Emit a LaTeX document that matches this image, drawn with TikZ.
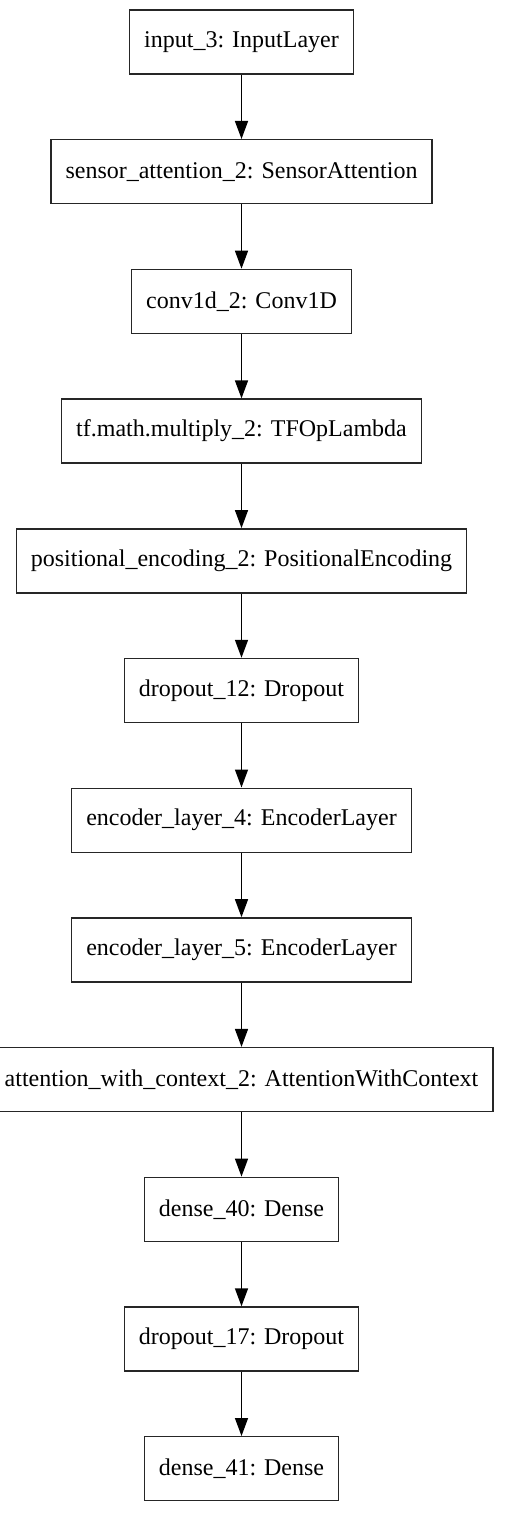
\documentclass[tikz,border=0pt]{standalone}
\usepackage{fontspec}
\setmainfont{Liberation Serif}
\usetikzlibrary{arrows.meta,positioning}

\begin{document}
\begin{tikzpicture}[
  layer/.style={draw=black!85,line width=0.7pt,fill=white,
    minimum height=32pt,inner xsep=7.3pt,inner ysep=2pt,font=\fontsize{12}{14}\selectfont},
  flow/.style={-{Triangle[length=9pt,width=6.5pt]},line width=0.7pt,draw=black}
]
\useasboundingbox (0,0) rectangle (257pt,-757pt);
\node[layer] (inp) at (120.75pt,-21pt) {input\_3: InputLayer};
\node[layer,below=32.15pt of inp] (sa) {sensor\_attention\_2: SensorAttention};
\node[layer,below=32.15pt of sa] (conv) {conv1d\_2: Conv1D};
\node[layer,below=32.15pt of conv] (mul) {tf.math.multiply\_2: TFOpLambda};
\node[layer,below=32.15pt of mul] (pe) {positional\_encoding\_2: PositionalEncoding};
\node[layer,below=32.15pt of pe] (drop1) {dropout\_12: Dropout};
\node[layer,below=32.15pt of drop1] (enc4) {encoder\_layer\_4: EncoderLayer};
\node[layer,below=32.15pt of enc4] (enc5) {encoder\_layer\_5: EncoderLayer};
\node[layer,below=32.15pt of enc5] (awc) {attention\_with\_context\_2: AttentionWithContext};
\node[layer,below=32.15pt of awc] (d40) {dense\_40: Dense};
\node[layer,below=32.15pt of d40] (drop2) {dropout\_17: Dropout};
\node[layer,below=32.15pt of drop2] (d41) {dense\_41: Dense};
\draw[flow] (inp)--(sa);
\draw[flow] (sa)--(conv);
\draw[flow] (conv)--(mul);
\draw[flow] (mul)--(pe);
\draw[flow] (pe)--(drop1);
\draw[flow] (drop1)--(enc4);
\draw[flow] (enc4)--(enc5);
\draw[flow] (enc5)--(awc);
\draw[flow] (awc)--(d40);
\draw[flow] (d40)--(drop2);
\draw[flow] (drop2)--(d41);
\end{tikzpicture}
\end{document}
